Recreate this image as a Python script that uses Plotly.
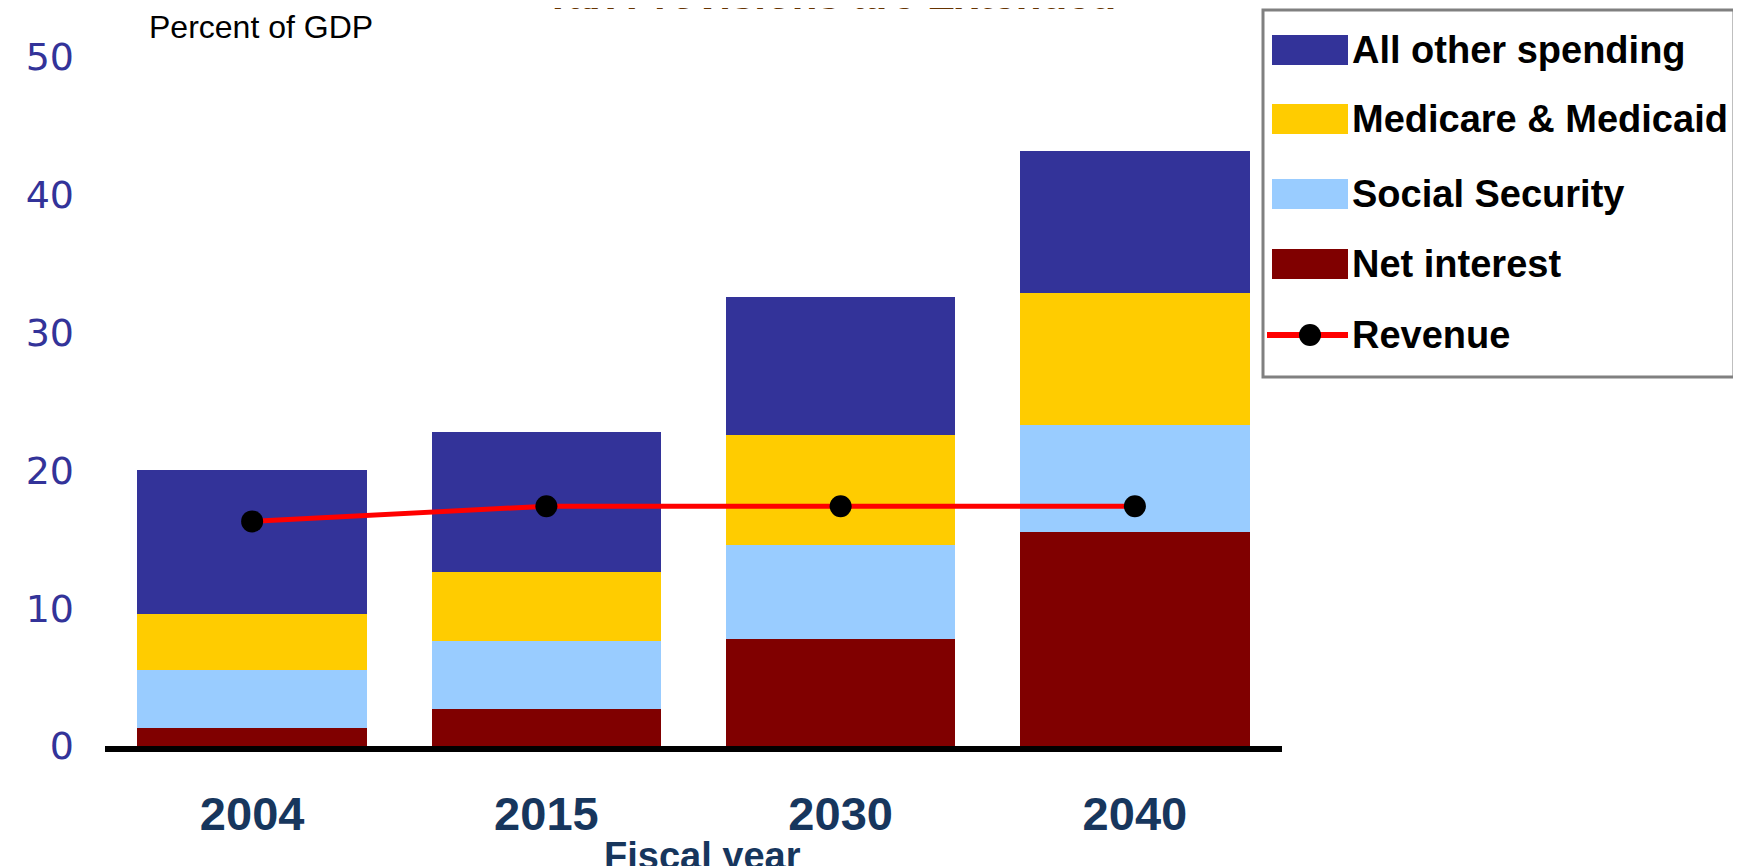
import plotly.graph_objects as go

years = ["2004", "2015", "2030", "2040"]
net_interest = [1.3, 2.7, 7.8, 15.5]
social_security = [4.2, 4.9, 6.8, 7.8]
medicare_medicaid = [4.1, 5.0, 8.0, 9.6]
all_other = [10.4, 10.2, 10.0, 10.3]
revenue = [16.3, 17.4, 17.4, 17.4]

series_names = ["Net interest", "Social Security", "Medicare & Medicaid", "All other spending"]
series_values = [net_interest, social_security, medicare_medicaid, all_other]
series_colors = ["#800000", "#99CCFF", "#FFCC00", "#333399"]

W, H = 1741, 866
L, R, T, B = 97, 467, 49, 128
PW, PH = W - L - R, H - T - B


def px(x):
    return (x - L) / PW


def py(y):
    return (H - B - y) / PH


fig = go.Figure()
for name, vals, col in zip(series_names, series_values, series_colors):
    fig.add_trace(go.Bar(x=years, y=vals, name=name, marker=dict(color=col, line=dict(width=0)),
                         showlegend=False))

fig.add_trace(go.Scatter(x=years, y=revenue, name="Revenue", mode="lines+markers",
                         line=dict(color="#FF0000", width=5),
                         marker=dict(color="black", size=22), showlegend=False))

shapes = []
annotations = []

LEG_FONT = dict(family="Liberation Sans", size=38, color="black", weight="bold")

# custom legend
shapes.append(dict(type="rect", xref="paper", yref="paper", x0=px(1255), x1=px(1726), y0=py(369), y1=py(2),
                   line=dict(color="#808080", width=3), fillcolor="white", layer="below"))
legend_items = [("All other spending", "#333399", 42), ("Medicare & Medicaid", "#FFCC00", 111),
                ("Social Security", "#99CCFF", 186), ("Net interest", "#800000", 256)]
for label, col, yc in legend_items:
    shapes.append(dict(type="rect", xref="paper", yref="paper", x0=px(1264), x1=px(1340),
                       y0=py(yc + 15), y1=py(yc - 15), fillcolor=col, line=dict(width=0)))
    annotations.append(dict(text=label, xref="paper", yref="paper", x=px(1342), y=py(yc),
                            xanchor="left", yanchor="middle", showarrow=False, font=LEG_FONT))
yc = 327
shapes.append(dict(type="line", xref="paper", yref="paper", x0=px(1259), x1=px(1340), y0=py(yc), y1=py(yc),
                   line=dict(color="#FF0000", width=6)))
shapes.append(dict(type="circle", xref="paper", yref="paper", x0=px(1291), x1=px(1313),
                   y0=py(yc + 11), y1=py(yc - 11), fillcolor="black", line=dict(width=0)))
annotations.append(dict(text="Revenue", xref="paper", yref="paper", x=px(1342), y=py(yc),
                        xanchor="left", yanchor="middle", showarrow=False, font=LEG_FONT))

annotations.append(dict(text="Percent of GDP", xref="paper", yref="paper", x=px(139), y=py(19),
                        xanchor="left", yanchor="middle", showarrow=False,
                        font=dict(family="Liberation Sans", size=32, color="black")))
annotations.append(dict(text="Fiscal year", xref="paper", yref="paper", x=px(694), y=py(825),
                        xanchor="center", yanchor="top", showarrow=False,
                        font=dict(family="Liberation Sans", size=38, color="#17365D", weight="bold")))
annotations.append(dict(text="Tax Provisions are Extended", xref="paper", yref="paper", x=px(822), y=py(12),
                        xanchor="center", yanchor="bottom", showarrow=False,
                        font=dict(family="Liberation Sans", size=42, color="#663300", weight="bold")))

fig.update_layout(
    barmode="stack", bargap=0.22,
    width=W, height=H, margin=dict(l=L, r=R, t=T, b=B, autoexpand=False),
    paper_bgcolor="white", plot_bgcolor="white",
    shapes=shapes, annotations=annotations,
    xaxis=dict(type="category", showline=True, linecolor="black", linewidth=6, showgrid=False,
               ticks="", ticklabelstandoff=22,
               tickfont=dict(family="Liberation Sans", size=47, color="#17365D", weight="bold")),
    yaxis=dict(range=[0, 50], tickvals=[0, 10, 20, 30, 40, 50], showgrid=False, zeroline=False,
               showline=False, ticks="", ticklabelstandoff=30,
               tickfont=dict(family="DejaVu Sans", size=38, color="#333399")),
)

fig.write_html("out.html")
